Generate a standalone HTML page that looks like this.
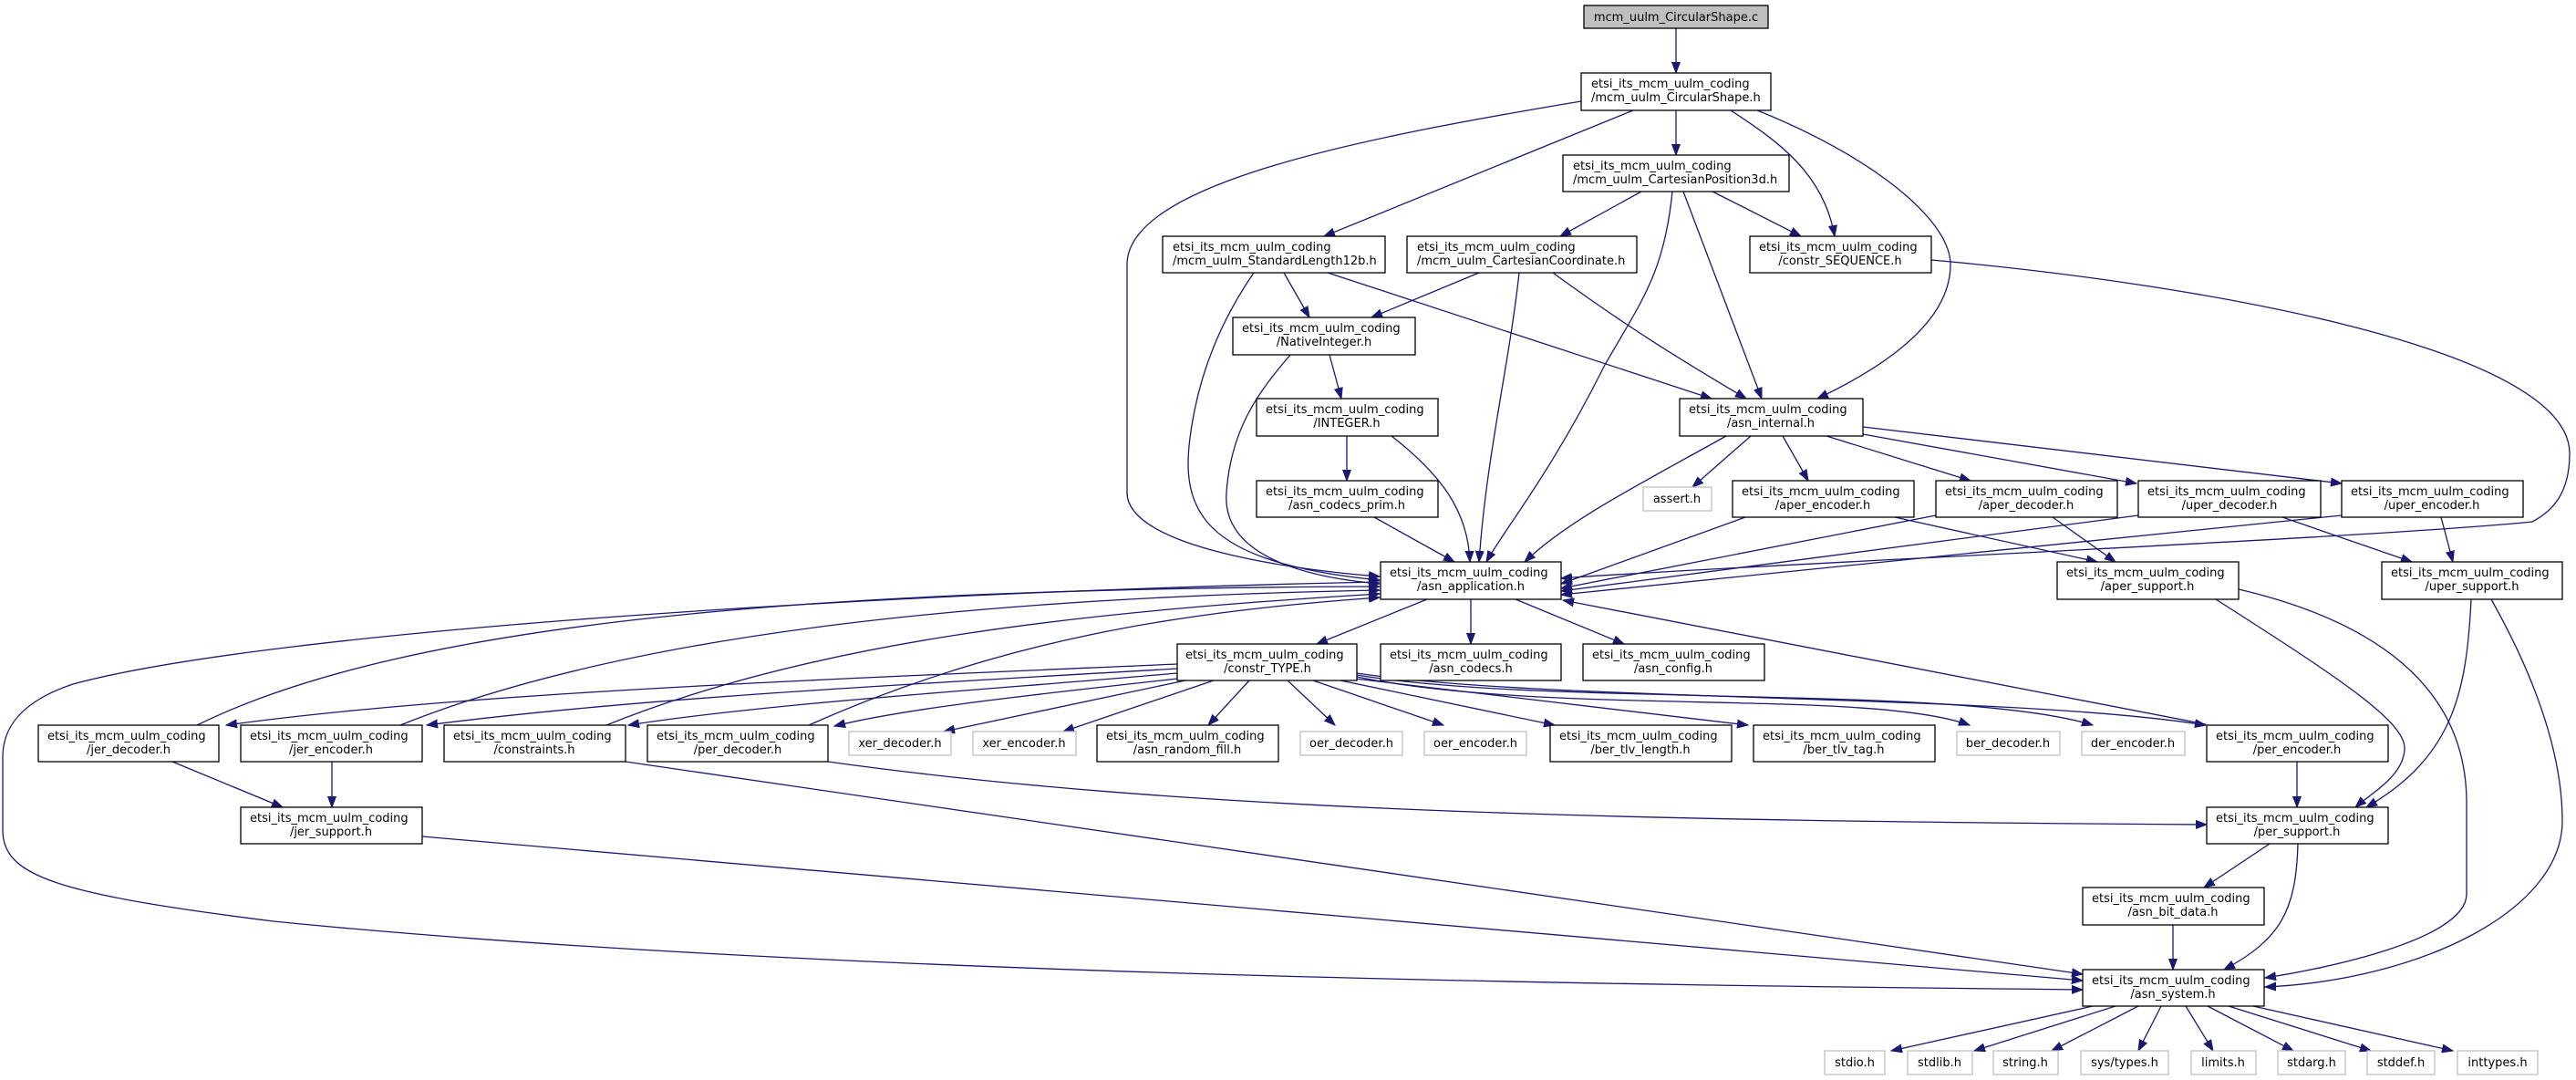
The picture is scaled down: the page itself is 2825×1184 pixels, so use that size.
<!DOCTYPE html>
<html><head><meta charset="utf-8"><style>
html,body{margin:0;padding:0;background:#fff}
svg{display:block}
text{font-family:"DejaVu Sans","Liberation Sans",sans-serif;font-size:13px;fill:#000}
.n{fill:#fff;stroke:#000;stroke-width:1.3}
.g{fill:#fff;stroke:#bfbfbf;stroke-width:1.3}
.e{fill:none;stroke:#191970;stroke-width:1.3}
</style></head><body>
<svg width="2825" height="1184" viewBox="0 0 2825 1184" xmlns="http://www.w3.org/2000/svg">
<defs><marker id="a" markerUnits="userSpaceOnUse" markerWidth="13" markerHeight="10" refX="12" refY="5" orient="auto"><path d="M0,0.5 L12,5 L0,9.5 z" fill="#191970" stroke="#191970"/></marker></defs>
<g marker-end="url(#a)">
<path class="e" d="M1838,31 L1838,80"/>
<path class="e" d="M1734,111 C1500,150 1236,200 1236,290 L1236,540 C1236,600 1420,625 1513,632"/>
<path class="e" d="M1791,121 L1452,259"/>
<path class="e" d="M1838,121 L1838,170"/>
<path class="e" d="M1898,121 C1950,155 2000,190 2012,259"/>
<path class="e" d="M1927,121 C2050,170 2139,240 2139,290 C2139,360 2050,410 1993,437"/>
<path class="e" d="M1800,210 L1711,259"/>
<path class="e" d="M1834,210 C1825,300 1800,330 1760,400 C1700,520 1650,580 1630,616"/>
<path class="e" d="M1846,210 L1932,437"/>
<path class="e" d="M1878,210 L1975,259"/>
<path class="e" d="M1408,299 L1436,348"/>
<path class="e" d="M1456,299 L1877,437"/>
<path class="e" d="M1375,299 C1340,350 1320,400 1310,450 C1290,550 1300,615 1513,636"/>
<path class="e" d="M1622,299 L1504,348"/>
<path class="e" d="M1666,299 C1655,400 1630,500 1622,616"/>
<path class="e" d="M1703,299 C1800,370 1870,410 1915,437"/>
<path class="e" d="M2118,285 C2400,310 2818,380 2818,497 C2818,540 2800,560 2777,572 C2600,590 1900,620 1712,634"/>
<path class="e" d="M1458,389 L1471,437"/>
<path class="e" d="M1415,389 C1380,430 1350,470 1345,540 C1340,605 1420,632 1513,640"/>
<path class="e" d="M1477,478 L1477,527"/>
<path class="e" d="M1526,478 C1580,520 1610,560 1612,616"/>
<path class="e" d="M1507,567 L1595,616"/>
<path class="e" d="M1893,478 C1800,530 1720,570 1672,616"/>
<path class="e" d="M1920,478 L1856,534"/>
<path class="e" d="M1955,478 L1983,527"/>
<path class="e" d="M2003,478 L2161,527"/>
<path class="e" d="M2043,476 L2343,530"/>
<path class="e" d="M2043,468 L2568,530"/>
<path class="e" d="M1914,567 L1712,640"/>
<path class="e" d="M2078,567 L2300,616"/>
<path class="e" d="M2123,565 L1712,645"/>
<path class="e" d="M2251,567 L2320,616"/>
<path class="e" d="M2345,565 L1712,648"/>
<path class="e" d="M2503,567 L2645,616"/>
<path class="e" d="M2568,565 L1712,652"/>
<path class="e" d="M2677,567 L2690,616"/>
<path class="e" d="M1565,657 L1444,706"/>
<path class="e" d="M1613,657 L1613,706"/>
<path class="e" d="M1662,657 L1781,706"/>
<path class="e" d="M2419,794 L1714,658"/>
<path class="e" d="M2430,657 C2560,740 2637,790 2637,820 C2637,850 2600,870 2583,885"/>
<path class="e" d="M2455,646 C2600,680 2705,750 2705,880 L2705,980 C2705,1030 2550,1062 2484,1072"/>
<path class="e" d="M2710,657 C2705,760 2690,830 2595,885"/>
<path class="e" d="M2732,657 C2790,760 2810,840 2810,900 C2810,1000 2650,1075 2484,1082"/>
<path class="e" d="M2519,835 L2519,885"/>
<path class="e" d="M2489,925 L2417,973"/>
<path class="e" d="M2520,925 C2518,1000 2500,1030 2439,1063"/>
<path class="e" d="M2383,1014 L2383,1063"/>
<path class="e" d="M2295,1103 L2074,1152"/>
<path class="e" d="M2320,1103 L2165,1152"/>
<path class="e" d="M2345,1103 L2250,1152"/>
<path class="e" d="M2370,1103 L2345,1152"/>
<path class="e" d="M2397,1103 L2427,1152"/>
<path class="e" d="M2421,1103 L2515,1152"/>
<path class="e" d="M2444,1103 L2600,1152"/>
<path class="e" d="M2471,1103 L2690,1152"/>
<path class="e" d="M1291,728 C900,745 500,760 248,795"/>
<path class="e" d="M1291,733 C1000,750 700,765 468,795"/>
<path class="e" d="M1291,738 C1100,755 850,770 689,795"/>
<path class="e" d="M1291,744 C1150,760 1000,775 915,796"/>
<path class="e" d="M1300,746 L1035,802"/>
<path class="e" d="M1331,746 L1166,802"/>
<path class="e" d="M1370,746 L1325,795"/>
<path class="e" d="M1412,746 L1464,795"/>
<path class="e" d="M1440,746 L1583,795"/>
<path class="e" d="M1470,746 L1705,795"/>
<path class="e" d="M1486,744 L1917,795"/>
<path class="e" d="M1488,742 C1700,785 2050,755 2160,795"/>
<path class="e" d="M1488,740 C1700,775 2150,750 2295,795"/>
<path class="e" d="M1488,738 C1700,770 2200,760 2419,795"/>
<path class="e" d="M216,795 C450,680 900,645 1513,643"/>
<path class="e" d="M439,795 C700,690 1100,655 1513,647"/>
<path class="e" d="M665,795 C900,700 1200,670 1513,651"/>
<path class="e" d="M887,795 C1100,700 1300,670 1513,655"/>
<path class="e" d="M1513,638 C1000,648 300,690 80,750 C20,770 3,800 3,830 L3,910 C3,960 60,980 300,1010 C900,1070 1800,1080 2284,1085"/>
<path class="e" d="M189,835 L310,885"/>
<path class="e" d="M364,835 L364,885"/>
<path class="e" d="M463,917 L2284,1075"/>
<path class="e" d="M686,835 L2284,1068"/>
<path class="e" d="M908,835 C1300,890 1800,900 2420,904"/>
</g>
<rect x="1737" y="6" width="202" height="25" fill="#bfbfbf" stroke="#000" stroke-width="1.3"/>
<text x="1838" y="23" text-anchor="middle">mcm_uulm_CircularShape.c</text>
<g>
<rect class="n" x="1734" y="80" width="208" height="41"/><text x="1745" y="96">etsi_its_mcm_uulm_coding</text><text x="1745" y="111">/mcm_uulm_CircularShape.h</text>
<rect class="n" x="1714" y="170" width="248" height="40"/><text x="1725" y="186">etsi_its_mcm_uulm_coding</text><text x="1725" y="201">/mcm_uulm_CartesianPosition3d.h</text>
<rect class="n" x="1275" y="259" width="244" height="40"/><text x="1286" y="275">etsi_its_mcm_uulm_coding</text><text x="1286" y="290">/mcm_uulm_StandardLength12b.h</text>
<rect class="n" x="1543" y="259" width="252" height="40"/><text x="1554" y="275">etsi_its_mcm_uulm_coding</text><text x="1554" y="290">/mcm_uulm_CartesianCoordinate.h</text>
<rect class="n" x="1919" y="259" width="199" height="40"/><text x="1929" y="275">etsi_its_mcm_uulm_coding</text><text x="2018" y="290" text-anchor="middle">/constr_SEQUENCE.h</text>
<rect class="n" x="1352" y="348" width="200" height="41"/><text x="1362" y="364">etsi_its_mcm_uulm_coding</text><text x="1452" y="379" text-anchor="middle">/NativeInteger.h</text>
<rect class="n" x="1378" y="437" width="199" height="41"/><text x="1388" y="453">etsi_its_mcm_uulm_coding</text><text x="1477" y="468" text-anchor="middle">/INTEGER.h</text>
<rect class="n" x="1842" y="437" width="201" height="41"/><text x="1852" y="453">etsi_its_mcm_uulm_coding</text><text x="1942" y="468" text-anchor="middle">/asn_internal.h</text>
<rect class="n" x="1378" y="527" width="199" height="40"/><text x="1388" y="543">etsi_its_mcm_uulm_coding</text><text x="1477" y="558" text-anchor="middle">/asn_codecs_prim.h</text>
<rect class="g" x="1802" y="534" width="75" height="26"/><text x="1839" y="551" text-anchor="middle">assert.h</text>
<rect class="n" x="1900" y="527" width="199" height="40"/><text x="1910" y="543">etsi_its_mcm_uulm_coding</text><text x="1999" y="558" text-anchor="middle">/aper_encoder.h</text>
<rect class="n" x="2123" y="527" width="199" height="40"/><text x="2133" y="543">etsi_its_mcm_uulm_coding</text><text x="2222" y="558" text-anchor="middle">/aper_decoder.h</text>
<rect class="n" x="2345" y="527" width="200" height="40"/><text x="2355" y="543">etsi_its_mcm_uulm_coding</text><text x="2445" y="558" text-anchor="middle">/uper_decoder.h</text>
<rect class="n" x="2568" y="527" width="199" height="40"/><text x="2578" y="543">etsi_its_mcm_uulm_coding</text><text x="2667" y="558" text-anchor="middle">/uper_encoder.h</text>
<rect class="n" x="1514" y="616" width="198" height="41"/><text x="1524" y="632">etsi_its_mcm_uulm_coding</text><text x="1613" y="647" text-anchor="middle">/asn_application.h</text>
<rect class="n" x="2256" y="616" width="199" height="41"/><text x="2266" y="632">etsi_its_mcm_uulm_coding</text><text x="2355" y="647" text-anchor="middle">/aper_support.h</text>
<rect class="n" x="2612" y="616" width="198" height="41"/><text x="2622" y="632">etsi_its_mcm_uulm_coding</text><text x="2711" y="647" text-anchor="middle">/uper_support.h</text>
<rect class="n" x="1291" y="706" width="197" height="40"/><text x="1300" y="722">etsi_its_mcm_uulm_coding</text><text x="1390" y="737" text-anchor="middle">/constr_TYPE.h</text>
<rect class="n" x="1514" y="706" width="198" height="40"/><text x="1524" y="722">etsi_its_mcm_uulm_coding</text><text x="1613" y="737" text-anchor="middle">/asn_codecs.h</text>
<rect class="n" x="1736" y="706" width="199" height="40"/><text x="1746" y="722">etsi_its_mcm_uulm_coding</text><text x="1835" y="737" text-anchor="middle">/asn_config.h</text>
<rect class="n" x="42" y="795" width="198" height="40"/><text x="52" y="811">etsi_its_mcm_uulm_coding</text><text x="141" y="826" text-anchor="middle">/jer_decoder.h</text>
<rect class="n" x="264" y="795" width="199" height="40"/><text x="274" y="811">etsi_its_mcm_uulm_coding</text><text x="363" y="826" text-anchor="middle">/jer_encoder.h</text>
<rect class="n" x="487" y="795" width="199" height="40"/><text x="497" y="811">etsi_its_mcm_uulm_coding</text><text x="586" y="826" text-anchor="middle">/constraints.h</text>
<rect class="n" x="710" y="795" width="198" height="40"/><text x="720" y="811">etsi_its_mcm_uulm_coding</text><text x="809" y="826" text-anchor="middle">/per_decoder.h</text>
<rect class="g" x="931" y="802" width="112" height="26"/><text x="987" y="819" text-anchor="middle">xer_decoder.h</text>
<rect class="g" x="1067" y="802" width="113" height="26"/><text x="1123" y="819" text-anchor="middle">xer_encoder.h</text>
<rect class="n" x="1203" y="795" width="199" height="40"/><text x="1213" y="811">etsi_its_mcm_uulm_coding</text><text x="1302" y="826" text-anchor="middle">/asn_random_fill.h</text>
<rect class="g" x="1426" y="802" width="112" height="26"/><text x="1482" y="819" text-anchor="middle">oer_decoder.h</text>
<rect class="g" x="1562" y="802" width="112" height="26"/><text x="1618" y="819" text-anchor="middle">oer_encoder.h</text>
<rect class="n" x="1700" y="795" width="199" height="40"/><text x="1710" y="811">etsi_its_mcm_uulm_coding</text><text x="1799" y="826" text-anchor="middle">/ber_tlv_length.h</text>
<rect class="n" x="1923" y="795" width="199" height="40"/><text x="1933" y="811">etsi_its_mcm_uulm_coding</text><text x="2022" y="826" text-anchor="middle">/ber_tlv_tag.h</text>
<rect class="g" x="2146" y="802" width="113" height="26"/><text x="2202" y="819" text-anchor="middle">ber_decoder.h</text>
<rect class="g" x="2283" y="802" width="113" height="26"/><text x="2339" y="819" text-anchor="middle">der_encoder.h</text>
<rect class="n" x="2420" y="795" width="199" height="40"/><text x="2430" y="811">etsi_its_mcm_uulm_coding</text><text x="2519" y="826" text-anchor="middle">/per_encoder.h</text>
<rect class="n" x="264" y="885" width="199" height="40"/><text x="274" y="901">etsi_its_mcm_uulm_coding</text><text x="363" y="916" text-anchor="middle">/jer_support.h</text>
<rect class="n" x="2420" y="885" width="199" height="40"/><text x="2430" y="901">etsi_its_mcm_uulm_coding</text><text x="2519" y="916" text-anchor="middle">/per_support.h</text>
<rect class="n" x="2284" y="973" width="199" height="41"/><text x="2294" y="989">etsi_its_mcm_uulm_coding</text><text x="2383" y="1004" text-anchor="middle">/asn_bit_data.h</text>
<rect class="n" x="2284" y="1063" width="199" height="40"/><text x="2294" y="1079">etsi_its_mcm_uulm_coding</text><text x="2383" y="1094" text-anchor="middle">/asn_system.h</text>
<rect class="g" x="2001" y="1152" width="66" height="26"/><text x="2034" y="1169" text-anchor="middle">stdio.h</text>
<rect class="g" x="2092" y="1152" width="71" height="26"/><text x="2127" y="1169" text-anchor="middle">stdlib.h</text>
<rect class="g" x="2186" y="1152" width="71" height="26"/><text x="2221" y="1169" text-anchor="middle">string.h</text>
<rect class="g" x="2282" y="1152" width="96" height="26"/><text x="2330" y="1169" text-anchor="middle">sys/types.h</text>
<rect class="g" x="2403" y="1152" width="71" height="26"/><text x="2438" y="1169" text-anchor="middle">limits.h</text>
<rect class="g" x="2498" y="1152" width="74" height="26"/><text x="2535" y="1169" text-anchor="middle">stdarg.h</text>
<rect class="g" x="2596" y="1152" width="74" height="26"/><text x="2633" y="1169" text-anchor="middle">stddef.h</text>
<rect class="g" x="2695" y="1152" width="88" height="26"/><text x="2739" y="1169" text-anchor="middle">inttypes.h</text>
</g>
</svg>
</body></html>
